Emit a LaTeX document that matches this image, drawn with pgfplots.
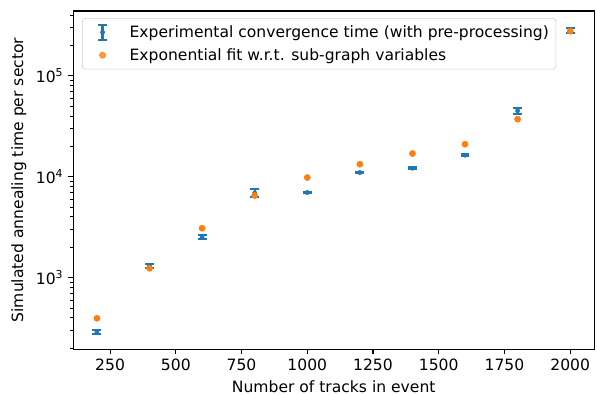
\documentclass[border=0pt]{standalone}
\usepackage{fontspec}
\setmainfont{DejaVu Sans}
\usepackage{pgfplots}
\pgfplotsset{compat=1.18}
\definecolor{mplblue}{HTML}{1F77B4}
\definecolor{mplorange}{HTML}{FF7F0E}
\newcommand{\mplfont}{\fontsize{11.2}{13.4}\selectfont}
\begin{document}
\begin{tikzpicture}
\useasboundingbox (-52.6pt,-32.4pt) rectangle (377pt,251.3pt);
\begin{axis}[
  at={(0,0)}, anchor=south west,
  width=375.1pt, height=243.4pt, scale only axis,
  ymode=log,
  xmin=109.3, xmax=2092, ymin=195, ymax=4.39e5,
  axis line style={line width=0.8pt},
  tick align=outside, tick pos=left,
  major tick length=3.5pt, minor tick length=2pt,
  every tick/.style={line width=0.8pt, black},
  every minor tick/.style={line width=0.6pt, black},
  xtick={250,500,750,1000,1250,1500,1750,2000},
  xticklabels={250,500,750,1000,1250,1500,1750,2000},
  ytick={1000,10000,100000},
  yticklabels={10\textsuperscript{3},10\textsuperscript{4},10\textsuperscript{5}},
  minor ytick={200,300,400,500,600,700,800,900,2000,3000,4000,5000,6000,7000,8000,9000,20000,30000,40000,50000,60000,70000,80000,90000,200000,300000,400000},
  tick label style={font=\mplfont},
  xlabel={Number of tracks in event},
  ylabel={Simulated annealing time per sector},
  label style={font=\mplfont},
  legend style={at={(0.0173,0.979)}, anchor=north west, draw=black!20, rounded corners=2pt,
    fill=white, fill opacity=0.8, text opacity=1, font=\mplfont,
    inner xsep=3pt, inner ysep=3pt, row sep=2.5pt},
  legend cell align=left,
]
\addplot[only marks, mark=*, mark size=1.5pt, color=mplblue,
  legend image code/.code={
    \draw[mplblue, line width=1.5pt] (11.5pt,-5.5pt) -- (11.5pt,5.5pt);
    \draw[mplblue, line width=1.5pt] (8.3pt,-5.5pt) -- (14.7pt,-5.5pt);
    \draw[mplblue, line width=1.5pt] (8.3pt,5.5pt) -- (14.7pt,5.5pt);
    \fill[mplblue] (11.5pt,0pt) circle (1.5pt);
    \path[draw=none, fill=none] (0pt,0pt) -- (29pt,0pt);
  },
  error bars/.cd, y dir=both, y explicit,
  error bar style={line width=1.5pt, mplblue},
  error mark options={line width=1.5pt, mark size=3.2pt, mplblue, rotate=90}]
table[x=x, y=y, y error plus=ep, y error minus=em] {
x y ep em
200 288 14 13
400 1303 52 58
600 2512 136 115
800 6900 615 590
1000 6970 100 100
1200 11000 200 200
1400 12130 200 200
1600 16330 450 450
1800 44990 3200 3300
2000 284000 15000 20000
};
\addlegendentry{Experimental convergence time (with pre-processing)}
\addplot[only marks, mark=*, mark size=2.2pt, color=mplorange,
  legend image code/.code={
    \fill[mplorange] (11.5pt,0pt) circle (2.2pt);
    \path[draw=none, fill=none] (0pt,0pt) -- (29pt,0pt);
  }]
table[x=x, y=y] {
x y
200 395
400 1236
600 3083
800 6500
1000 9815
1200 13300
1400 16980
1600 20990
1800 37150
2000 277000
};
\addlegendentry{Exponential fit w.r.t. sub-graph variables}
\end{axis}
\end{tikzpicture}
\end{document}
